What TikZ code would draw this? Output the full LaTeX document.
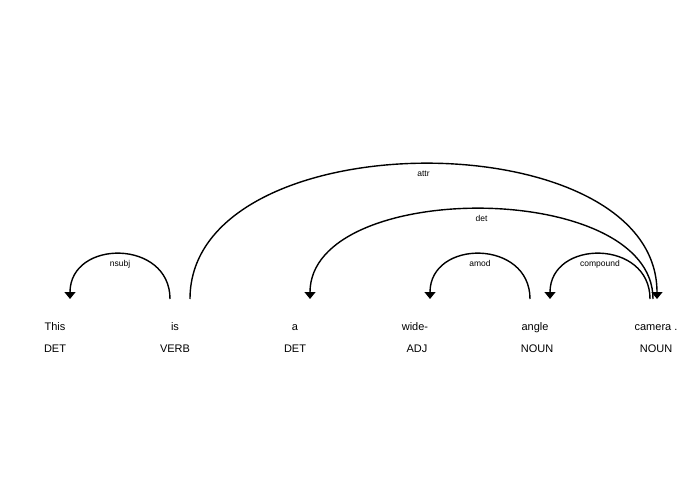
\documentclass[tikz,border=0pt]{standalone}
\usepackage{fontspec}
\setmainfont{Liberation Sans}
\usepackage{tikz}
\usetikzlibrary{arrows.meta}

\begin{document}
\begin{tikzpicture}[x=1pt,y=-1pt,
    word/.style={anchor=base,inner sep=0pt,font=\fontsize{11}{13}\selectfont},
    deparc/.style={line width=1.4pt,-{Triangle[width=11pt,length=7pt]}},
    deplabel/.style={midway,below=5pt,inner sep=1pt,text height=6pt,text depth=2pt,font=\fontsize{8.5}{10}\selectfont}]
    \useasboundingbox (0,0) rectangle (695,494);
    \node[word] (w0) at (55,330) {This};
    \node[word] (w1) at (175,330) {is};
    \node[word] (w2) at (295,330) {a};
    \node[word] (w3) at (415,330) {wide-};
    \node[word] (w4) at (535,330) {angle};
    \node[word] (w5) at (656,330) {camera .};
    \node[word] (t0) at (55,352) {DET};
    \node[word] (t1) at (175,352) {VERB};
    \node[word] (t2) at (295,352) {DET};
    \node[word] (t3) at (417,352) {ADJ};
    \node[word] (t4) at (537,352) {NOUN};
    \node[word] (t5) at (656,352) {NOUN};
    \draw[deparc] ([xshift=-5pt,yshift=31pt]w1.base) .. node[deplabel]{nsubj} controls +(0,-60) and +(0,-60) .. ([xshift=15pt,yshift=31pt]w0.base);
    \draw[deparc] ([xshift=15pt,yshift=31pt]w1.base) .. node[deplabel]{attr} controls +(0,-180) and +(0,-180) .. ([xshift=1pt,yshift=31pt]w5.base);
    \draw[deparc] ([xshift=-3pt,yshift=31pt]w5.base) .. node[deplabel]{det} controls +(0,-120) and +(0,-120) .. ([xshift=15pt,yshift=31pt]w2.base);
    \draw[deparc] ([xshift=-5pt,yshift=31pt]w4.base) .. node[deplabel]{amod} controls +(0,-60) and +(0,-60) .. ([xshift=15pt,yshift=31pt]w3.base);
    \draw[deparc] ([xshift=-6pt,yshift=31pt]w5.base) .. node[deplabel]{compound} controls +(0,-60) and +(0,-60) .. ([xshift=15pt,yshift=31pt]w4.base);
\end{tikzpicture}
\end{document}
